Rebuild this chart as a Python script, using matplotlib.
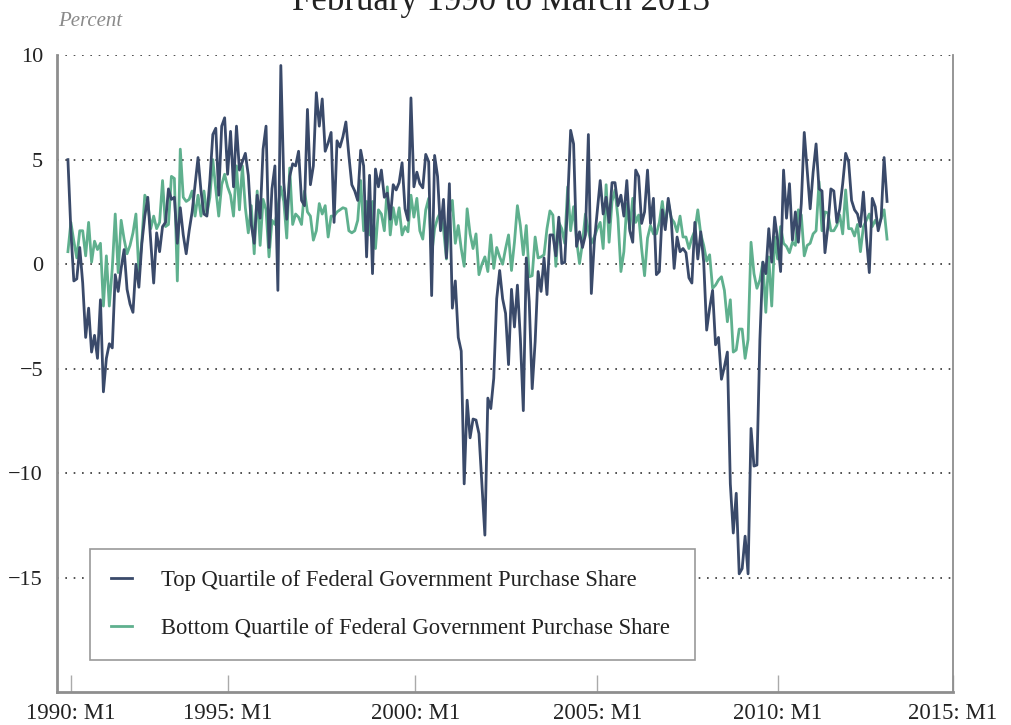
import matplotlib
matplotlib.use("Agg")
import matplotlib.pyplot as plt
import numpy as np

# monthly values, February 1990 to March 2013 (percent)
top_quartile = [
    5.0, 1.6, -0.8, -0.7, 0.8, -0.9, -3.5, -2.1, -4.2, -3.4, -4.5, -1.7, -6.1, -4.5, -3.8, -4.0,
    -0.5, -1.3, -0.2, 0.7, -1.2, -1.9, -2.3, 0.0, -1.1, 1.0, 2.3, 3.2, 1.1, -0.9, 1.5, 0.6,
    1.8, 2.0, 3.6, 3.1, 3.2, 1.0, 2.7, 1.4, 0.5, 1.6, 2.5, 3.8, 5.1, 3.5, 2.4, 2.3, 4.0, 6.2,
    6.5, 3.3, 6.6, 7.0, 4.3,
    6.35, 3.7, 6.6, 4.5, 4.9, 5.3, 4.25, 1.9, 1.0, 3.3, 2.2, 5.5, 6.6, 0.8, 3.6, 4.7, -1.25,
    9.5, 3.9, 2.15, 4.2, 4.8, 4.7, 5.4, 3.05, 2.8, 7.4, 3.8, 4.7, 8.2, 6.6, 7.9, 5.4, 5.8, 6.3,
    2.0, 5.9, 5.6, 6.1, 6.8, 5.2, 3.8, 3.5, 3.05, 5.45, 4.7, 0.35, 4.25, -0.45, 4.55, 3.7, 4.5,
    3.2, 3.4, 2.15, 3.8, 3.55, 3.9,
    4.85, 2.65, 2.1, 7.95, 3.7, 4.4, 3.85, 3.65, 5.25, 4.9, -1.5, 5.2, 4.2, 1.6, 3.1, 0.3, 3.85,
    -2.1, -0.8, -3.5, -4.15, -10.5, -6.5, -8.3, -7.4, -7.45, -8.1, -10.55, -12.95, -6.4, -6.9,
    -5.45, -1.65, -0.3, -1.65, -2.35, -4.8, -1.2, -3.0, -1.0, -3.55, -7.0, 0.3, -1.8, -5.95,
    -3.7, -0.35, -1.3, 0.3, -1.45, 1.4, 1.4, 0.4, 2.25, 0.03, 0.1, 3.0,
    6.4, 5.75, 0.85, 1.55, 0.8, 1.4, 6.2, -1.4, 1.05, 2.5, 4.0, 2.4, 3.2, 2.0, 3.9, 3.9, 2.8,
    3.3, 2.3, 4.0, 1.6, 1.05, 4.5, 4.2, 1.95, 2.5, 4.5, 1.95, 3.15, -0.5, -0.35, 2.6, 1.65,
    3.15, 2.2, -0.2, 1.3, 0.6, 0.75, 0.55, -0.65, -0.9, 2.0, 0.25, 1.55, 0.1, -3.15, -2.1,
    -1.25, -3.85, -3.5, -5.5, -4.9, -4.2,
    -10.5, -12.85, -10.95, -14.8, -14.55, -13.0, -14.8, -7.85, -9.65, -9.6, -3.6, 0.1,
    -0.45, 1.7, 0.1, 2.25, 1.15, -0.35, 4.5, 2.2, 3.85, 1.15, 2.5, 1.05, 2.9, 6.3, 4.5, 2.65,
    4.4, 5.75, 3.6, 3.5, 0.55, 1.8, 3.6, 3.5, 2.0, 2.65, 3.85, 5.3, 4.9, 3.05, 2.6, 2.4, 1.8,
    3.45, 1.3, -0.4, 3.15, 2.75, 1.6, 2.2, 5.1, 3.0,
]
bottom_quartile = [
    0.6, 2.0, 1.1, 0.3, 1.6, 1.6, 0.4, 2.0, 0.1, 1.1, 0.7, 1.0, -2.0, 0.4, -2.0, -0.2, 2.4,
    -0.4, 2.1, 1.2, 0.5, 0.9, 1.5, 2.4, -0.4, 1.1, 3.3, 3.0, 1.7, 2.3, 1.7, 2.0, 4.0, 1.8, 1.9,
    4.2, 4.1, -0.8, 5.5, 3.2, 3.0, 3.1, 3.5, 2.3, 3.3, 2.3, 3.5, 2.4, 3.2, 5.0, 3.6, 2.3, 3.8,
    4.3, 3.7,
    3.3, 2.3, 4.7, 2.6, 4.7, 2.7, 1.5, 2.8, 0.5, 3.5, 0.9, 3.1, 2.6, 0.35, 2.1, 1.9, 2.7, 3.7,
    3.0, 1.25, 4.6, 1.9, 2.4, 2.25, 1.9, 3.5, 2.5, 2.3, 1.15, 1.6, 2.9, 2.4, 2.8, 1.3, 2.3, 2.3,
    2.5, 2.6, 2.7, 2.65, 1.6, 1.5, 1.6, 2.1, 4.0, 1.6, 3.0, 1.4, 3.0, 0.75, 2.6, 2.4, 1.6, 3.7,
    1.4, 2.7, 1.9, 2.7,
    1.4, 1.8, 1.55, 3.3, 2.25, 3.15, 1.6, 1.2, 2.6, 3.15, 0.45, 1.7, 2.2, 2.5, 1.7, 0.25, 2.4,
    3.05, 1.0, 1.85, 0.75, -0.1, 2.65, 1.45, 0.75, 1.45, -0.5, 0.0, 0.35, -0.35, 1.4, -0.2, 0.8,
    0.35, 0.0, 0.75, 1.4, -0.3, 1.05, 2.8, 1.85, 0.45, 1.85, -0.6, -0.55, 1.3, 0.3, 0.35, 0.45,
    1.7, 2.55, 2.35, -0.1, 2.0, 1.7, 1.0, 3.7,
    1.6, 2.75, 1.15, 0.03, 1.0, 2.4, 1.6, 1.0, 1.3, 1.7, 2.0, 0.75, 3.8, 1.05, 3.0, 3.55, 2.2,
    -0.35, 0.6, 2.9, 1.7, 3.15, 2.0, 2.35, 0.75, -0.55, 1.25, 1.85, 1.45, 1.45, 2.0, 3.0, 1.8,
    3.0, 2.2, 2.0, 1.55, 2.3, 1.3, 1.3, 0.75, 1.25, 1.6, 2.6, 1.45, 0.9, 0.15, 0.45, -1.15,
    -1.0, -0.75, -0.6, -1.25, -2.75, -1.7, -4.2, -4.1, -3.1,
    -3.1, -4.5, -3.6, 1.05, -0.45, -1.15, -0.75, 0.1,
    -2.3, 0.35, -2.0, 1.3, 0.25, 1.8, 1.0, 0.85, 0.55, 1.05, 0.9, 2.6, 2.35, 0.4, 0.9, 1.0,
    1.45, 1.6, 3.95, 1.6, 2.5, 2.45, 1.6, 1.6, 1.85, 2.35, 1.45, 3.55, 1.7, 1.7, 1.35, 1.9,
    0.6, 1.8, 2.1, 2.4, 1.8, 2.1, 1.8, 2.2, 2.6, 1.2,
]

series_names = ["Top Quartile of Federal Government Purchase Share",
                "Bottom Quartile of Federal Government Purchase Share"]
tick_labels = ["1990: M1", "1995: M1", "2000: M1", "2005: M1", "2010: M1", "2015: M1"]
# month index (0 = Feb 1990) where the original chart puts each tick
tick_pos = [1, 54, 117.5, 179, 240, 299.3]
y_ticks = [10, 5, 0, -5, -10, -15]

dark = "#3a4a6a"
green = "#5fb08e"
grey = "#8e8e8e"

plt.rcParams["font.family"] = ["Liberation Serif", "DejaVu Serif"]

months = np.arange(len(top_quartile))

fig = plt.figure(figsize=(10.12, 7.25), dpi=100)
ax = fig.add_axes([0.0563, 0.0455, 0.8854, 0.8786])

l1, = ax.plot(months, top_quartile, color=dark, lw=2.0, zorder=3, label=series_names[0])
l2, = ax.plot(months, bottom_quartile, color=green, lw=2.0, zorder=2, label=series_names[1])

ax.set_xlim(-3.7, 299.3)
ax.set_ylim(-20.45, 10)
ax.set_yticks(y_ticks)
ax.set_xticks(tick_pos)
ax.set_xticklabels(tick_labels)
ax.yaxis.grid(True, color="#333333", lw=1.2, ls=(0, (1, 4)))
ax.set_axisbelow(True)

ax.spines["top"].set_visible(False)
for s in ["left", "bottom"]:
    ax.spines[s].set_color(grey)
    ax.spines[s].set_linewidth(2)
ax.spines["right"].set_color(grey)
ax.spines["right"].set_linewidth(1.3)

ax.tick_params(axis="x", direction="in", length=12, width=1, color="#aaaaaa",
               labelsize=16.5, pad=8, labelcolor="#222222")
ax.tick_params(axis="y", length=0, labelsize=16, pad=10, labelcolor="#222222")

leg = ax.legend(handles=[l1, l2], loc="lower left", bbox_to_anchor=(0.0368, 0.05, 0.675, 0.17),
                mode="expand", borderaxespad=0, fontsize=16.3, handlelength=0.9,
                handletextpad=1.3, borderpad=0.95, labelspacing=1.17, fancybox=False,
                framealpha=1, edgecolor="#999999")
leg.get_frame().set_linewidth(1.2)
for t in leg.get_texts():
    t.set_color("#222222")

fig.text(58 / 1012, 1 - 26 / 725, "Percent", style="italic", color="#8a8a8a",
         fontsize=15, va="baseline", ha="left")
fig.text(0.495, 1 - 10 / 725, "February 1990 to March 2013", color="#222222",
         fontsize=25, va="baseline", ha="center")

fig.savefig("out.png", dpi=100)
